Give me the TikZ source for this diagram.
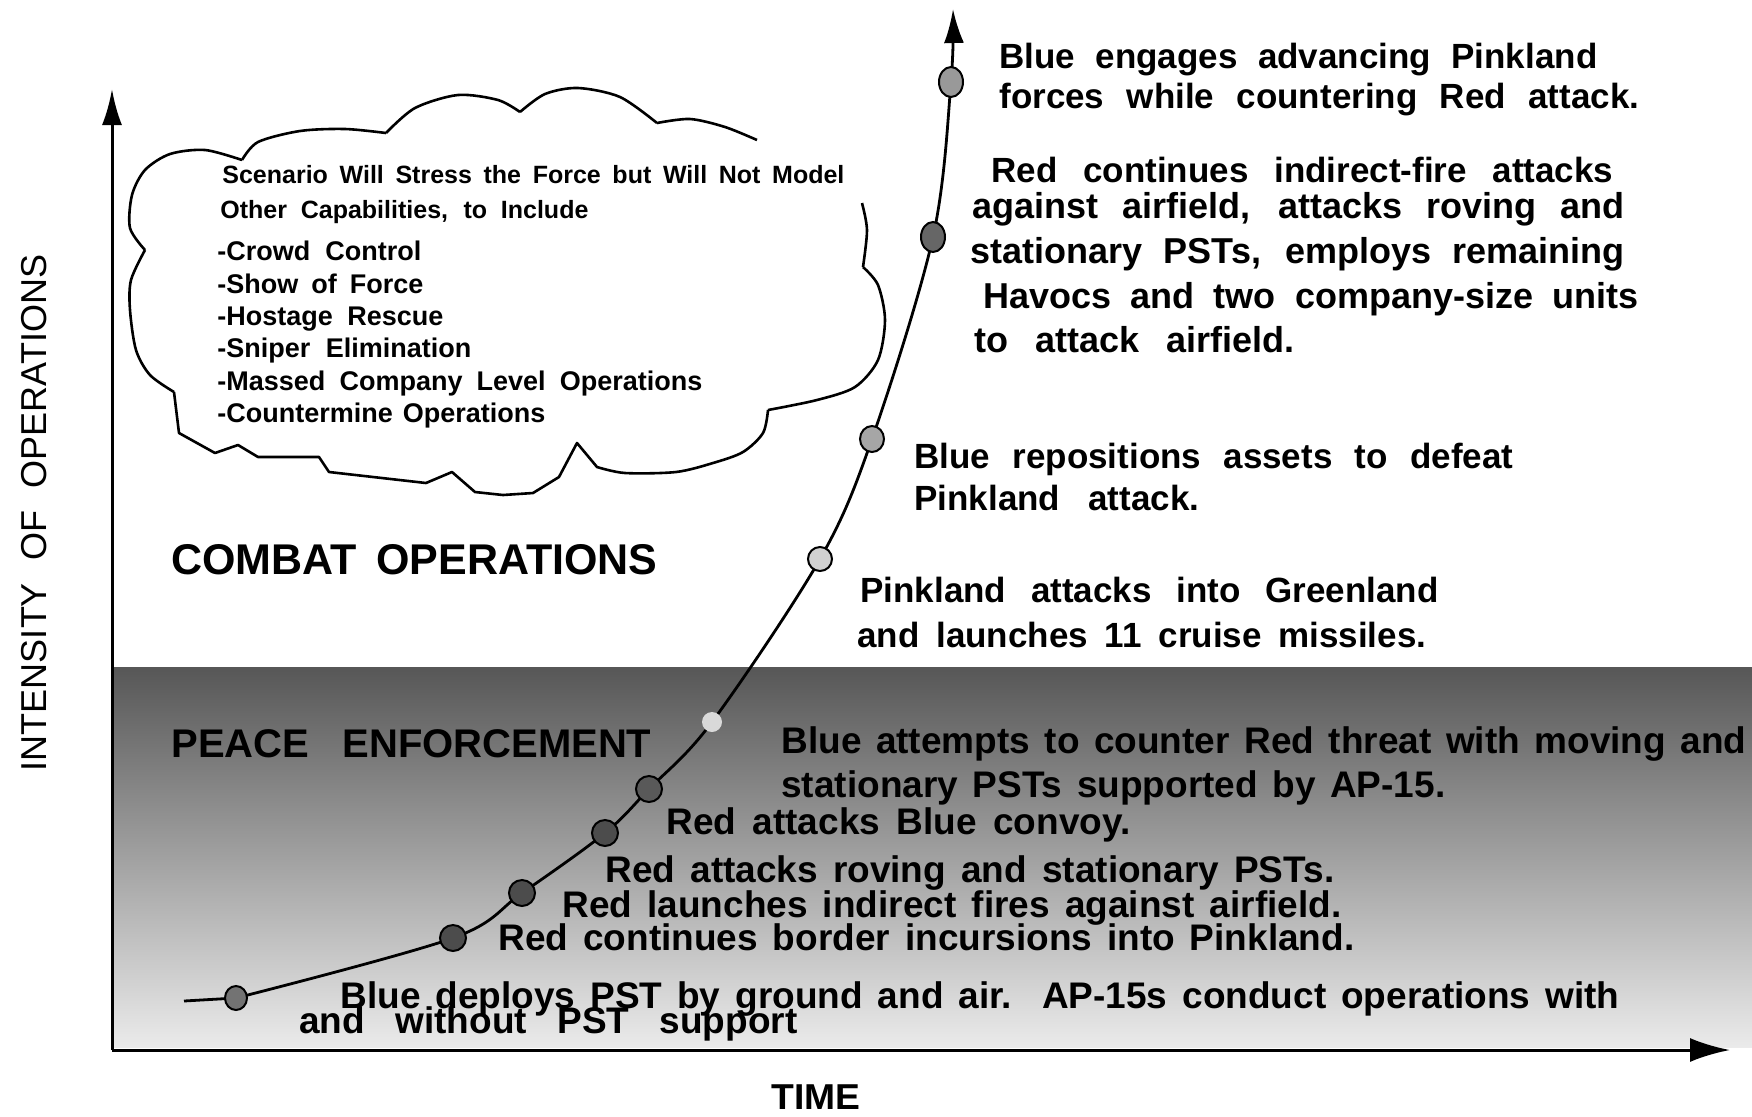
\documentclass[tikz,border=0pt]{standalone}
\usepackage{fontspec}
\setmainfont{Liberation Sans}
\usetikzlibrary{arrows.meta,shapes.geometric}
\newlength\fitL
\newlength\fitT
\newcommand\fitline[2]{\setlength\fitT{\dimexpr #1pt/2\relax}\settowidth\fitL{#2}\ifdim\fitL<\fitT\makebox[\fitT][s]{#2}\else\resizebox{\fitT}{\height}{#2}\fi}
\begin{document}
\begin{tikzpicture}[x=0.5pt,y=-0.5pt,
  txt/.style={anchor=base west, inner sep=0pt, font=\bfseries\fontsize{#1}{#1}\selectfont},
  txt/.default=17.5,
  dotn/.style={ellipse, draw=black, line width=1pt, inner sep=0pt},
  axis/.style={line width=1.5pt, -{Latex[length=18pt,width=10pt]}},
  curve/.style={line width=1.4pt},
  cloud/.style={line width=1.3pt, line join=round}]
\useasboundingbox (0,0) rectangle (1752,1116);
\fill[white] (0,0) rectangle (1752,1116);
% shaded band
\shade[top color=black!66, middle color=black!40, bottom color=black!8] (112,667) rectangle (1752,1047);
% axes
\coordinate (O) at (112,1050);
\coordinate (Ytop) at (112,89);
\coordinate (Xend) at (1730,1050);
\draw[axis] (O) -- (Ytop);
\draw[axis, -{Latex[length=20pt,width=12pt]}] (O) -- (Xend);
% curve points
\coordinate (p0) at (184,1001);
\coordinate (p1) at (236,998);
\coordinate (p2) at (453,938);
\coordinate (p3) at (522,893);
\coordinate (p4) at (605,833);
\coordinate (p5) at (649,789);
\coordinate (p6) at (712,722);
\coordinate (p7) at (820,559);
\coordinate (p8) at (872,439);
\coordinate (p9) at (933,237);
\coordinate (p10) at (951,82);
\coordinate (tip) at (953,9);
\draw[curve] (p0) -- (p1);
\draw[curve, -{Latex[length=17pt,width=10pt]}] plot[smooth, tension=0.55] coordinates {(p1) (p2) (p3) (p4) (p5) (p6) (p7) (p8) (p9) (p10) (tip)};
% dots
\node[dotn, fill=black!55, minimum width=11pt, minimum height=12pt] (d1) at (p1) {};
\node[dotn, fill=black!70, minimum width=13pt, minimum height=13pt] (d2) at (p2) {};
\node[dotn, fill=black!70, minimum width=13pt, minimum height=13pt] (d3) at (p3) {};
\node[dotn, fill=black!70, minimum width=13pt, minimum height=13pt] (d4) at (p4) {};
\node[dotn, fill=black!65, minimum width=13pt, minimum height=13pt] (d5) at (p5) {};
\node[dotn, draw=none, fill=black!15, minimum width=10pt, minimum height=10pt] (d6) at (p6) {};
\node[dotn, fill=black!18, minimum width=12pt, minimum height=12pt] (d7) at (p7) {};
\node[dotn, fill=black!35, minimum width=12pt, minimum height=13pt] (d8) at (p8) {};
\node[dotn, fill=black!60, minimum width=12pt, minimum height=15pt] (d9) at (p9) {};
\node[dotn, fill=black!40, minimum width=12pt, minimum height=15pt] (d10) at (p10) {};
% cloud
\draw[cloud] plot[smooth] coordinates {(145,250) (130,228) (132,195) (145,170) (170,154) (205,150) (242,160)}
  plot[smooth] coordinates {(242,160) (258,142) (300,131) (345,129) (386,133)}
  plot[smooth] coordinates {(386,133) (415,108) (458,95) (498,100) (520,112)}
  plot[smooth] coordinates {(520,112) (545,94) (578,88) (620,97) (657,123)}
  plot[smooth] coordinates {(657,123) (690,119) (725,127) (757,140)};
\draw[cloud] plot[smooth] coordinates {(862,203) (867,230) (863,267)}
  plot[smooth] coordinates {(863,267) (878,285) (885,320) (878,360) (855,387) (817,400) (768,410)}
  plot[smooth] coordinates {(768,410) (763,433) (743,452) (713,463) (676,472) (625,473) (597,467)}
  -- (577,443) -- (559,477) -- (533,493) -- (503,495) -- (475,492) -- (452,472) -- (426,483)
  -- (329,472) -- (319,457) -- (258,457) -- (238,445) -- (215,453) -- (179,433) -- (174,392)
  plot[smooth] coordinates {(174,392) (150,375) (136,350) (130,310) (131,280) (145,250)};
% cloud text
\node[txt=12.5] (c1) at (222,183) {\fitline{622}{Scenario Will Stress the Force but Will Not Model}};
\node[txt=12.5] (c2) at (220,218) {\fitline{368}{Other Capabilities, to Include}};
\node[txt=13.5] (c3) at (217,260) {\fitline{204}{-Crowd Control}};
\node[txt=13.5] (c4) at (217,293) {\fitline{206}{-Show of Force}};
\node[txt=13.5] (c5) at (217,325) {\fitline{226}{-Hostage Rescue}};
\node[txt=13.5] (c6) at (217,357) {\fitline{254}{-Sniper Elimination}};
\node[txt=13.5] (c7) at (217,390) {\fitline{485}{-Massed Company Level Operations}};
\node[txt=13.5] (c8) at (217,422) {\fitline{328}{-Countermine Operations}};
% right text
\node[txt] (r1) at (999,68) {\fitline{598}{Blue engages advancing Pinkland}};
\node[txt] (r2) at (999,108) {\fitline{640}{forces while countering Red attack.}};
\node[txt] (r3) at (991,182) {\fitline{622}{Red continues indirect-fire attacks}};
\node[txt=18] (r4) at (972,218) {\fitline{652}{against airfield, attacks roving and}};
\node[txt=18] (r5) at (970,263) {\fitline{654}{stationary PSTs, employs remaining}};
\node[txt=18] (r6) at (983,308) {\fitline{655}{Havocs and two company-size units}};
\node[txt=18] (r7) at (974,352) {\fitline{320}{to attack airfield.}};
\node[txt] (r8) at (914,468) {\fitline{599}{Blue repositions assets to defeat}};
\node[txt] (r9) at (914,510) {\fitline{285}{Pinkland attack.}};
\node[txt] (r10) at (860,602) {\fitline{578}{Pinkland attacks into Greenland}};
\node[txt] (r11) at (857,647) {\fitline{569}{and launches 11 cruise missiles.}};
% region labels
\node[txt=21.5] (combat) at (171,574) {\fitline{486}{COMBAT OPERATIONS}};
\node[txt=20] (peace) at (171,757) {\fitline{480}{PEACE ENFORCEMENT}};
% band text
\node[txt=18.5] (b14) at (781,753) {\fitline{965}{Blue attempts to counter Red threat with moving and}};
\node[txt=18.5] (b15) at (781,797) {\fitline{664}{stationary PSTs supported by AP-15.}};
\node[txt=18.5] (b16) at (666,834) {\fitline{464}{Red attacks Blue convoy.}};
\node[txt=18.5] (b17) at (605,882) {\fitline{729}{Red attacks roving and stationary PSTs.}};
\node[txt=18.5] (b18) at (562,917) {\fitline{779}{Red launches indirect fires against airfield.}};
\node[txt=18.5] (b19) at (498,950) {\fitline{856}{Red continues border incursions into Pinkland.}};
\node[txt=18.5] (b20) at (340,1008) {\fitline{1279}{Blue deploys PST by ground and air.~~AP-15s conduct operations with}};
\node[txt=18.5] (b21) at (299,1033) {\fitline{498}{and without PST support}};
% axis labels
\node[txt=18] (time) at (771,1109) {\resizebox{44.5pt}{\height}{TIME}};
\node[inner sep=0pt, rotate=90, font=\fontsize{18}{18}\selectfont] (ylab) at (34,513) {\fitline{516}{INTENSITY OF OPERATIONS}};
\end{tikzpicture}
\end{document}
